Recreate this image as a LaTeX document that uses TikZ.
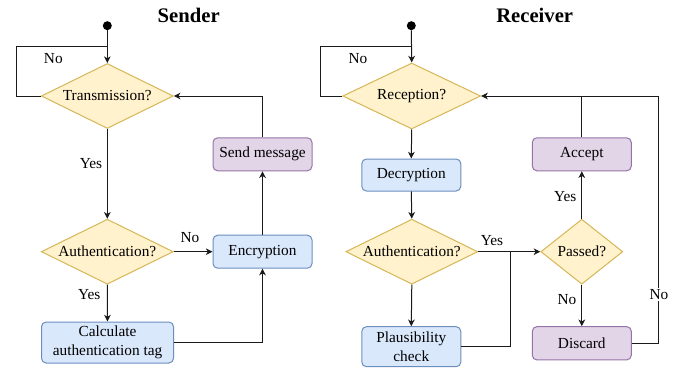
\documentclass[tikz,border=0pt]{standalone}
\usepackage{fontspec}
\setmainfont{Liberation Serif}
\usetikzlibrary{shapes.geometric,arrows.meta}
\definecolor{yfill}{HTML}{FFF2CC}
\definecolor{ydraw}{HTML}{D6B656}
\definecolor{bfill}{HTML}{DAE8FC}
\definecolor{bdraw}{HTML}{6C8EBF}
\definecolor{pfill}{HTML}{E1D5E7}
\definecolor{pdraw}{HTML}{9673A6}
\definecolor{linecol}{HTML}{1A1A1A}
\begin{document}
\begin{tikzpicture}[x=0.75pt,y=-0.75pt,
  txt/.style={font=\rmfamily\fontsize{11.5}{14}\selectfont},
  ttl/.style={font=\rmfamily\fontsize{15.5}{18}\selectfont\bfseries},
  dia/.style={diamond, fill=yfill, draw=ydraw, line width=0.75pt, inner sep=0pt},
  rbox/.style={rectangle, rounded corners=3.5pt, line width=0.75pt, inner sep=1pt, align=center, txt},
  bluebox/.style={rbox, fill=bfill, draw=bdraw},
  purpbox/.style={rbox, fill=pfill, draw=pdraw},
  dot/.style={circle, fill=black, inner sep=0pt, minimum size=6.75pt},
  conn/.style={draw=linecol, line width=0.75pt},
  arr/.style={conn, -{Stealth[length=5pt,width=5pt,inset=1.5pt]}},
  lbl/.style={txt, inner sep=1pt}
]
\useasboundingbox (0,0) rectangle (686,371);

% Titles
\node[ttl] (t1) at (188.7,15) {Sender};
\node[ttl] (t2) at (534.7,15) {Receiver};

% Sender nodes
\node[dot] (d1) at (107.3,25.7) {};
\node[dia, minimum width=99pt, minimum height=48.75pt, label={[txt]center:Transmission?}] (tr) at (107.3,96) {};
\node[dia, minimum width=99pt, minimum height=48.75pt, label={[txt]center:Authentication?}] (au) at (107.3,251.7) {};
\node[bluebox, minimum width=74.25pt, minimum height=24.75pt] (enc) at (262.5,251.7) {Encryption};
\node[purpbox, minimum width=74.25pt, minimum height=24.75pt] (send) at (262.5,154.3) {Send message};
\node[bluebox, minimum width=99pt, minimum height=30.75pt] (calc) at (107.5,342.5) {Calculate\\authentication tag};
\coordinate (ls1) at (16,46.7);

% Sender connectors
\draw[arr] (d1) -- (tr.north);
\draw[conn] (tr.west) -| (ls1) -- (ls1 -| tr.north);
\draw[arr] (tr.south) -- (au.north);
\draw[arr] (au.east) -- (enc.west);
\draw[arr] (au.south) -- (calc.north);
\draw[arr] (calc.east) -| (enc.south);
\draw[arr] (enc.north) -- (send.south);
\draw[arr] (send.north) |- (tr.east);

% Sender labels
\node[lbl] (n1) at (53.3,59) {No};
\node[lbl] (y1) at (91,164) {Yes};
\node[lbl] (n2) at (190,237.7) {No};
\node[lbl] (y2) at (89.3,295) {Yes};

% Receiver nodes
\node[dot] (d2) at (411.3,25.7) {};
\node[dia, minimum width=103.5pt, minimum height=49.5pt, label={[txt]center:Reception?}] (re) at (411.7,96) {};
\node[bluebox, minimum width=74.25pt, minimum height=24pt] (dec) at (411.3,175) {Decryption};
\node[dia, minimum width=99pt, minimum height=48.75pt, label={[txt]center:Authentication?}] (au2) at (411.8,251.7) {};
\node[bluebox, minimum width=74.25pt, minimum height=30pt] (pl) at (411.3,346.7) {Plausibility\\check};
\node[dia, minimum width=61.5pt, minimum height=48.75pt, label={[txt]center:Passed?}] (pa) at (581.8,251.7) {};
\node[purpbox, minimum width=74.25pt, minimum height=24.75pt] (acc) at (581.8,154.3) {Accept};
\node[purpbox, minimum width=74.25pt, minimum height=25pt] (dis) at (581.8,343.3) {Discard};
\coordinate (ls2) at (320.7,46.7);
\coordinate (jn) at (510.3,251.7);
\coordinate (rc) at (658.3,96);

% Receiver connectors
\draw[arr] (d2) -- (re.north);
\draw[conn] (re.west) -| (ls2) -- (ls2 -| re.north);
\draw[arr] (re.south) -- (dec.north);
\draw[arr] (dec.south) -- (au2.north);
\draw[arr] (au2.south) -- (pl.north);
\draw[arr] (au2.east) -- (pa.west);
\draw[conn] (pl.east) -| (jn);
\draw[arr] (pa.north) -- (acc.south);
\draw[arr] (acc.north) |- (re.east);
\draw[arr] (pa.south) -- (dis.north);
\draw[conn] (dis.east) -| (rc) -- (rc -| acc.north);

% Receiver labels
\node[lbl] (n3) at (358,59) {No};
\node[lbl] (y3) at (492,240.7) {Yes};
\node[lbl] (y4) at (565.3,196.7) {Yes};
\node[lbl] (n4) at (567,299.3) {No};
\node[lbl, fill=white] (n5) at (659,294.3) {No};
\end{tikzpicture}
\end{document}
